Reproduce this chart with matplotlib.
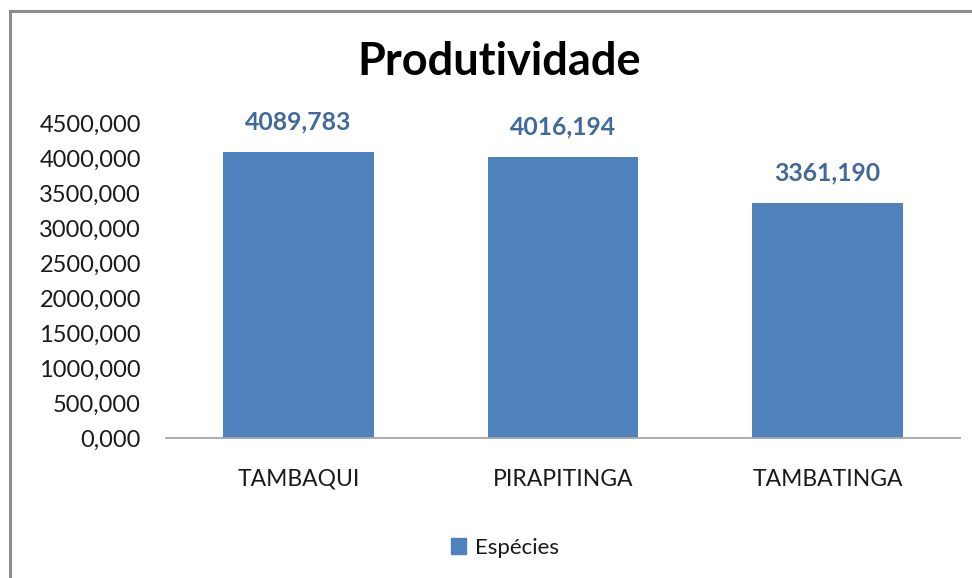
import matplotlib
matplotlib.use("Agg")
import matplotlib.pyplot as plt
from matplotlib.patches import Rectangle
from matplotlib.lines import Line2D

categories = ["TAMBAQUI", "PIRAPITINGA", "TAMBATINGA"]
values = [4089.783, 4016.194, 3361.190]
yticks = [0, 500, 1000, 1500, 2000, 2500, 3000, 3500, 4000, 4500]
series_name = "Espécies"
title = "Produtividade"

def fmt(v):
    return f"{v:.3f}".replace(".", ",")

plt.rcParams['font.family'] = ['Lato', 'DejaVu Sans']

W, H = 972, 578
fig = plt.figure(figsize=(W / 100, H / 100), dpi=100)
fig.patch.set_facecolor("white")

# outer border (left and top visible)
fig.add_artist(Line2D([9.5 / W, 9.5 / W], [0, 1 - 11 / H], transform=fig.transFigure,
                      color="#8c8c8c", lw=2.2))
fig.add_artist(Line2D([9.5 / W, 1], [1 - 11 / H, 1 - 11 / H], transform=fig.transFigure,
                      color="#8c8c8c", lw=2.2))

x0, x1 = 166, 960
y0, y1 = 438, 123
ax = fig.add_axes([x0 / W, 1 - y0 / H, (x1 - x0) / W, (y0 - y1) / H])
xs = list(range(len(categories)))
bars = ax.bar(xs, values, width=0.57, color="#4F81BD", zorder=2)
ax.set_xlim(-0.5, len(categories) - 0.5)
ax.set_ylim(0, 4500)
ax.set_yticks(yticks)
ax.set_yticklabels([fmt(v) for v in yticks], fontsize=17, color="#1a1a1a")
ax.set_xticks(xs)
ax.set_xticklabels(categories, fontsize=16.5, color="#1a1a1a")
ax.tick_params(axis="both", length=0)
ax.tick_params(axis="x", pad=22)
ax.tick_params(axis="y", pad=18)
for s in ["top", "right", "left"]:
    ax.spines[s].set_visible(False)
ax.spines["bottom"].set_color("#a6a6a6")
ax.spines["bottom"].set_linewidth(1.3)

for x, v in zip(xs, values):
    ax.annotate(fmt(v), (x, v), xytext=(0, 13), textcoords="offset points",
                ha="center", va="bottom", fontsize=17.8, fontweight="bold",
                color="#41699C")

fig.text(499 / W, 1 - 62 / H, title, ha="center", va="center",
         fontsize=32.5, fontweight="bold", color="black")

handle = Rectangle((0, 0), 1, 1, color="#4F81BD")
fig.legend([handle], [series_name], loc="center", bbox_to_anchor=(505 / W, 1 - 548 / H),
           frameon=False, fontsize=16, handlelength=0.7, handleheight=0.7,
           handletextpad=0.4, labelcolor="#1a1a1a")

fig.savefig("out.png", dpi=100)
